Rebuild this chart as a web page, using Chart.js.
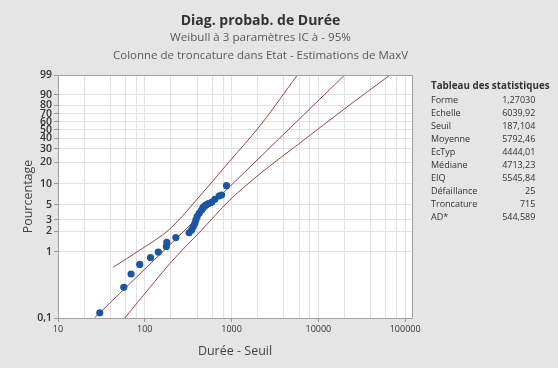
<!DOCTYPE html>
<html>
<head>
<meta charset="utf-8">
<script src="https://cdn.jsdelivr.net/npm/chart.js"></script>
<style>
  body { margin: 0; background: #e5e5e5; font-family: "Open Sans", sans-serif; }
  #wrap { position: relative; width: 558px; height: 368px; }
  canvas { position: absolute; left: 0; top: 0; }
  .ttl { position: absolute; left: 0; width: 521px; text-align: center; white-space: nowrap; }
  #t1 { top: 10px; font-size: 14px; font-weight: bold; color: #333; }
  #t2 { top: 29px; font-size: 11.6px; color: #595959; }
  #t3 { top: 47px; font-size: 11.5px; color: #595959; }
  #stats { position: absolute; left: 431px; top: 79px; font-size: 9px; color: #333; }
  #stats .hd { font-weight: bold; font-size: 9.8px; line-height: 14px; white-space: nowrap; }
  #stats table { border-collapse: collapse; }
  #stats td { padding: 0; height: 13px; line-height: 13px; }
  #stats td.v { text-align: right; width: 58px; }
  #stats td.l { width: 46px; }
</style>
</head>
<body>
<div id="wrap">
  <canvas id="chart" width="558" height="368"></canvas>
  <div class="ttl" id="t1">Diag. probab. de Durée</div>
  <div class="ttl" id="t2">Weibull à 3 paramètres IC à - 95%</div>
  <div class="ttl" id="t3">Colonne de troncature dans Etat - Estimations de MaxV</div>
  <div id="stats"></div>
</div>
<script>
// failures (Durée - Seuil) and plotted percentages
const failDuration = [30.3, 57.3, 69.5, 87.5, 116.4, 143.2, 177, 179.5, 228, 324, 346, 361, 378,
                      388, 401, 423, 451, 470, 501, 540, 588, 641, 719, 767, 875];
const failPct = [0.12, 0.29, 0.46, 0.64, 0.81, 0.98, 1.19, 1.37, 1.62, 1.91, 2.10, 2.35, 2.64,
                 2.96, 3.31, 3.72, 4.16, 4.56, 4.93, 5.18, 5.40, 5.97, 6.67, 6.90, 9.41];

// fitted line and 95% confidence bounds
const fitDuration = [26.3, 20100];
const fitPct = [0.1, 99];
const upperDuration = [43, 87.5, 194, 431, 955, 2118, 5740];
const upperPct = [0.58, 1.05, 2.17, 6.67, 20.8, 54.4, 99];
const lowerDuration = [58.8, 114.3, 222, 431, 955, 2118, 6140, 20280, 67000];
const lowerPct = [0.1, 0.288, 0.80, 1.96, 5.83, 13.8, 35.3, 76.3, 99];

// axes
const yTickValues = [0.1, 1, 2, 3, 5, 10, 20, 30, 40, 50, 60, 70, 80, 90, 99];
const xGridValues = [10, 20, 40, 60, 80, 100, 200, 400, 600, 800, 1000, 2000, 4000, 6000, 8000,
                     10000, 20000, 40000, 60000, 80000, 100000];
const xTickLabels = ['10', '100', '1000', '10000', '100000'];

// statistics table
const statNames = ['Forme', 'Echelle', 'Seuil', 'Moyenne', 'EcTyp', 'Médiane', 'EIQ', 'Défaillance', 'Troncature', 'AD*'];
const statValues = ['1,27030', '6039,92', '187,104', '5792,46', '4444,01', '4713,23', '5545,84', '25', '715', '544,589'];

let html = '<div class="hd">Tableau des statistiques</div><table>';
statNames.forEach((n, i) => {
    html += '<tr><td class="l">' + n + '</td><td class="v">' + statValues[i] + '</td></tr>';
});
document.getElementById('stats').innerHTML = html + '</table>';

// Weibull probability transform
const wb = p => Math.log(-Math.log(1 - p / 100));
const wbInv = t => 100 * (1 - Math.exp(-Math.exp(t)));

class WeibullScale extends Chart.LinearScale {
    buildTicks() {
        return yTickValues.map(v => ({ value: v }));
    }
    getPixelForValue(value) {
        if (value === null || value === undefined) return NaN;
        const a = wb(this.min), b = wb(this.max);
        return this.getPixelForDecimal((wb(value) - a) / (b - a));
    }
    getValueForPixel(pixel) {
        const a = wb(this.min), b = wb(this.max);
        return wbInv(a + this.getDecimalForPixel(pixel) * (b - a));
    }
}
WeibullScale.id = 'weibull';
WeibullScale.defaults = Chart.LinearScale.defaults;
Chart.register(WeibullScale);

const toPoints = (xs, ys) => xs.map((x, i) => ({ x: x, y: ys[i] }));

const lineColor = '#9c4444';

const plotBg = {
    id: 'plotBg',
    beforeDraw(chart) {
        const { ctx, chartArea: a } = chart;
        ctx.save();
        ctx.fillStyle = '#ffffff';
        ctx.fillRect(a.left, a.top, a.right - a.left, a.bottom - a.top);
        ctx.restore();
    },
    afterDraw(chart) {
        const { ctx, chartArea: a } = chart;
        ctx.save();
        ctx.strokeStyle = '#a0a0a0';
        ctx.lineWidth = 1;
        ctx.strokeRect(a.left + 0.5, a.top + 0.5, a.right - a.left, a.bottom - a.top);
        ctx.restore();
    }
};

new Chart(document.getElementById('chart'), {
    type: 'scatter',
    data: {
        datasets: [
            {
                label: 'Défaillances',
                data: toPoints(failDuration, failPct),
                backgroundColor: '#1b56a4',
                borderWidth: 0,
                pointRadius: 3.6,
                order: 0
            },
            {
                label: 'Ajustement',
                type: 'line',
                data: toPoints(fitDuration, fitPct),
                borderColor: lineColor,
                borderWidth: 1,
                pointRadius: 0,
                order: 1
            },
            {
                label: 'IC sup',
                type: 'line',
                data: toPoints(upperDuration, upperPct),
                borderColor: lineColor,
                borderWidth: 1,
                pointRadius: 0,
                cubicInterpolationMode: 'monotone',
                order: 1
            },
            {
                label: 'IC inf',
                type: 'line',
                data: toPoints(lowerDuration, lowerPct),
                borderColor: lineColor,
                borderWidth: 1,
                pointRadius: 0,
                cubicInterpolationMode: 'monotone',
                order: 1
            }
        ]
    },
    options: {
        responsive: false,
        animation: false,
        layout: { padding: { top: 75, right: 146, left: 0, bottom: 0 } },
        plugins: {
            legend: { display: false },
            tooltip: { enabled: false }
        },
        scales: {
            x: {
                type: 'logarithmic',
                min: 10,
                max: 120000,
                afterBuildTicks: s => { s.ticks = xGridValues.map(v => ({ value: v })); },
                afterFit: s => { s.height = 50; },
                grid: {
                    color: '#e2e2e2',
                    tickLength: 4,
                    tickColor: c => xTickLabels.includes(String(c.tick.value)) ? '#999' : 'rgba(0,0,0,0)'
                },
                border: { color: '#a0a0a0' },
                ticks: {
                    autoSkip: false,
                    maxRotation: 0,
                    padding: 2,
                    color: '#333',
                    font: { family: 'Open Sans', size: 9 },
                    callback: v => xTickLabels.includes(String(v)) ? String(v) : ''
                },
                title: {
                    display: true,
                    text: 'Durée - Seuil',
                    color: '#444',
                    font: { family: 'Open Sans', size: 12.5 },
                    padding: { bottom: 9, top: 0 }
                }
            },
            y: {
                type: 'weibull',
                min: 0.1,
                max: 99,
                afterFit: s => { s.width = 58; },
                grid: { color: '#e2e2e2', tickLength: 4, tickColor: '#999' },
                border: { color: '#a0a0a0' },
                ticks: {
                    autoSkip: false,
                    padding: 2,
                    color: '#333',
                    font: { family: 'Open Sans', size: 10.5, weight: '600' },
                    callback: v => String(v).replace('.', ',')
                },
                title: {
                    display: true,
                    text: 'Pourcentage',
                    color: '#444',
                    font: { family: 'Open Sans', size: 12.5 },
                    padding: { top: 21, bottom: 0 }
                }
            }
        }
    },
    plugins: [plotBg]
});
</script>
</body>
</html>
